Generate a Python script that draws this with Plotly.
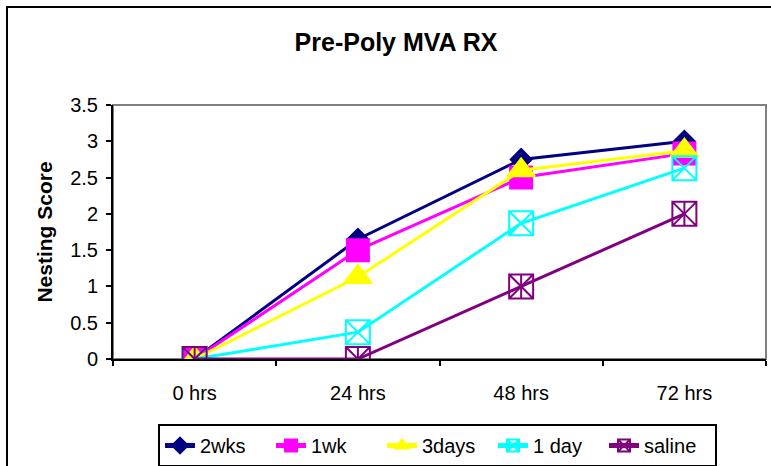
import plotly.graph_objects as go

categories = ["0 hrs", "24 hrs", "48 hrs", "72 hrs"]
wks2 = [0, 1.65, 2.75, 3.0]
wk1 = [0, 1.5, 2.5, 2.83]
days3 = [0, 1.13, 2.6, 2.87]
day1 = [0, 0.37, 1.87, 2.63]
saline = [0, 0, 1.0, 2.0]
y_ticks = [0, 0.5, 1, 1.5, 2, 2.5, 3, 3.5]
y_tick_text = ["0", "0.5", "1", "1.5", "2", "2.5", "3", "3.5"]

font_family = "Liberation Sans, Arial, sans-serif"

fig = go.Figure()
series = [
    ("2wks", wks2, "#000080", "diamond", 16),
    ("1wk", wk1, "#FF00FF", "square", 22),
    ("3days", days3, "#FFFF00", "triangle-up", 24),
    ("1 day", day1, "#00FFFF", "square-x-open", 24),
    ("saline", saline, "#800080", "square-x-open", 24),
]
for name, vals, color, sym, size in series:
    fig.add_trace(go.Scatter(
        x=categories, y=vals, name=name, mode="lines+markers",
        line=dict(color=color, width=3),
        marker=dict(symbol=sym, size=size, color=color,
                    line=dict(color=color, width=2)),
    ))
# vertical stroke of saline's asterisk-box marker
fig.add_trace(go.Scatter(
    x=categories, y=saline, mode="markers", showlegend=False,
    marker=dict(symbol="line-ns-open", size=17, color="#800080",
                line=dict(color="#800080", width=2)),
    hoverinfo="skip",
))

fig.update_layout(
    width=771, height=466,
    margin=dict(l=113, r=5, t=105, b=107, autoexpand=False),
    paper_bgcolor="white", plot_bgcolor="white",
    font=dict(family=font_family, size=20, color="black"),
    title=dict(text="<b>Pre-Poly MVA RX</b>", x=396/771, xanchor="center",
               y=1 - 42/466, yanchor="middle",
               font=dict(family=font_family, size=25, color="black")),
    showlegend=True,
    legend=dict(orientation="h", x=(158-113)/653, xanchor="left",
                y=(359-424)/254, yanchor="top",
                bordercolor="black", borderwidth=2, bgcolor="white",
                font=dict(family=font_family, size=20, color="black"),
                itemwidth=30, itemsizing="constant", tracegroupgap=0,
                entrywidth=66),
    shapes=[
        dict(type="rect", xref="paper", yref="paper", x0=0, x1=1, y0=0, y1=1,
             line=dict(color="#808080", width=2), layer="below"),
        dict(type="rect", xref="paper", yref="paper", x0=(7-113)/653, x1=1.2,
             y0=-0.6, y1=(359-7)/254, line=dict(color="black", width=2),
             layer="below"),
    ],
)
fig.update_xaxes(
    type="category", showline=True, linecolor="black", linewidth=2,
    ticks="outside", ticklen=5, tickcolor="black", tickwidth=2,
    tickson="boundaries", showgrid=False, zeroline=False,
    ticklabelstandoff=15, range=[-0.5, 3.5],
    tickfont=dict(family=font_family, size=20, color="black"),
)
fig.update_yaxes(
    range=[0, 3.5], tickvals=y_ticks, ticktext=y_tick_text,
    showline=True, linecolor="black", linewidth=2,
    ticks="outside", ticklen=5, tickcolor="black", tickwidth=2,
    showgrid=False, zeroline=False, ticklabelstandoff=4,
    title=dict(text="<b>Nesting Score</b>", standoff=12,
               font=dict(family=font_family, size=21, color="black")),
    tickfont=dict(family=font_family, size=20, color="black"),
)

fig.write_html(
    "out.html",
    config={"displayModeBar": False},
    post_script="document.body.style.margin='0';document.body.style.overflow='hidden';",
)
